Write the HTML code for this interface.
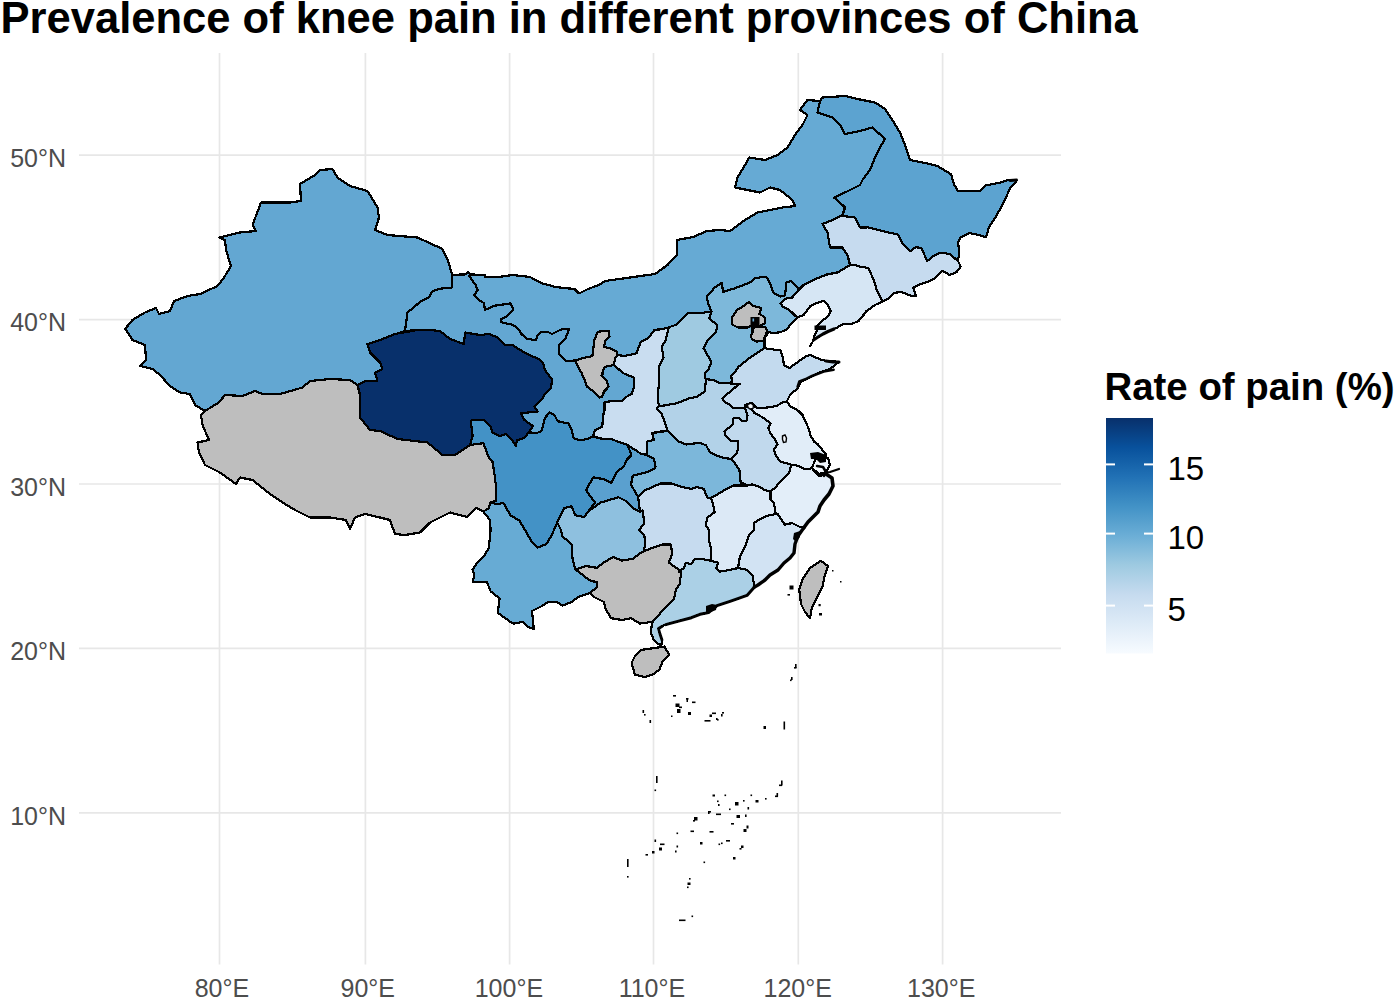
<!DOCTYPE html>
<html><head><meta charset="utf-8"><style>
html,body{margin:0;padding:0;background:#fff;}
svg{display:block;}
text{font-family:"Liberation Sans",sans-serif;}
</style></head><body>
<svg width="1400" height="1000" viewBox="0 0 1400 1000">
<defs><linearGradient id="cb" x1="0" y1="0" x2="0" y2="1">
<stop offset="0.0000" stop-color="#08306b"/>
<stop offset="0.1250" stop-color="#08519c"/>
<stop offset="0.2500" stop-color="#2171b5"/>
<stop offset="0.3750" stop-color="#4292c6"/>
<stop offset="0.5000" stop-color="#6baed6"/>
<stop offset="0.6250" stop-color="#9ecae1"/>
<stop offset="0.7500" stop-color="#c6dbef"/>
<stop offset="0.8750" stop-color="#deebf7"/>
<stop offset="1.0000" stop-color="#f7fbff"/>
</linearGradient></defs>
<rect width="1400" height="1000" fill="#fff"/>
<g stroke="#e7e7e7" stroke-width="1.7" fill="none">
<line x1="219.5" y1="53" x2="219.5" y2="964.5"/>
<line x1="365.4" y1="53" x2="365.4" y2="964.5"/>
<line x1="509.6" y1="53" x2="509.6" y2="964.5"/>
<line x1="653.5" y1="53" x2="653.5" y2="964.5"/>
<line x1="798.3" y1="53" x2="798.3" y2="964.5"/>
<line x1="942.6" y1="53" x2="942.6" y2="964.5"/>
<line x1="79" y1="155.2" x2="1061" y2="155.2"/>
<line x1="79" y1="319.6" x2="1061" y2="319.6"/>
<line x1="79" y1="484.0" x2="1061" y2="484.0"/>
<line x1="79" y1="648.4" x2="1061" y2="648.4"/>
<line x1="79" y1="812.8" x2="1061" y2="812.8"/>
</g>
<g stroke="#000" stroke-width="2.2" stroke-linejoin="round" shape-rendering="crispEdges">
<polygon points="125,329 132.5,320 145,312.5 156,308 159,314 170,311 174,301 187.5,296 200,294 217.5,286 224,277.5 231,266 226,250 225,240 219,237.5 240,232.5 256,231 252.5,225 261,202.5 275,202.5 290,202.5 301,201 300,184 315,175 320,170 332.5,169 337.5,177.5 350,186 367.5,191 377.5,207.5 379,217.5 375,230 387.5,235 417.5,237.5 442.5,249 447.6,260 452.4,275 451.8,287.6 438.6,288.8 432,291.8 429,297.2 420,302 407.5,312.5 405,331 387.5,337.5 367.5,344 370,352.5 380,362.5 382.5,369 375,372.5 377.5,381 365,381 357.5,385 350,380 330,379 310,381 302.5,387.5 280,394 262.5,394 255,391 242.5,396 225,395 218.75,402.5 205,411 195,405 190,394 180,392.5 170,386 160,375 152.5,369 140,366 146,360 145,345 132.5,340 126,330" fill="#000" stroke="#000"/>
<polygon points="205,411 218.75,402.5 225,395 242.5,396 255,391 262.5,394 280,394 302.5,387.5 310,381 330,379 350,380 357.5,385 360,395 360,417.5 370,430 380,431 397.5,439 427.5,442.5 442.5,455 455,455 470,445 483.4,443.2 488.8,457.6 492.4,461.2 494.2,472 496,486.4 496,500.8 490.6,502.6 488.8,508 483.4,511.6 476.2,508 467.2,517 460,515.2 450,512.5 430,522.5 420,532.5 405,535 395,534 390,520 380,517.5 365,514 355,517.5 350,529 346,520 330,517.5 310,517.5 295,510 282.5,502.5 270,494 252.5,480 240,477.5 236,484 220,472.5 205,465 199,452.5 197.5,442.5 209,440 202.5,425 201,415" fill="#000" stroke="#000"/>
<polygon points="367.5,344 380,340 395,334 417.5,330 430,330 440,331 450,339 464,344 465,332.5 480,335 489,334 498,337.6 505.2,344.8 512.4,344.8 520.5,350.2 530.4,355.6 537.6,358.3 543,362.8 544.8,370 552,379.6 551.2,387.6 545.6,393.2 541.6,399.6 534.4,406.8 537.6,411.6 520.8,413.2 524,419.6 532.8,426 528.8,432.4 524,438 516.8,440.4 516,446 511.2,438.8 506.4,434 499.6,436 492.4,432.4 490.6,427 483.4,419.8 472.6,419.8 470.8,421.6 472.6,436 470,445 455,455 442.5,455 427.5,442.5 397.5,439 380,431 370,430 360,417.5 360,395 357.5,385 365,381 377.5,381 375,372.5 382.5,369 380,362.5 370,352.5" fill="#000" stroke="#000"/>
<polygon points="452.4,275 456,274.7 465.6,274.4 468,272 470.4,274.4 469.2,275.6 471.6,279.8 475.2,284 477.6,290 474,295.4 480,300.8 484.2,303.2 484.8,309.8 489.6,308 495,305.6 500,305 504.3,304.3 510.6,303.4 513.3,309.7 507,316 500.7,319.6 501.6,322.3 513.3,325 518.7,329.5 521.4,334 526.8,338.5 535.8,340.3 537.6,334.9 541.2,332.2 548.4,332.2 552,334 561,329.5 569.1,328.6 567.3,334 565.5,338.5 559.2,344.8 559.2,353.8 562.8,357.4 566.4,361 575.3,361 581.6,373.1 585.2,381.2 587,386.6 594.2,392 599.6,397.4 601.4,396.5 605,391.1 608.6,386.6 606.8,381.2 602.3,375.8 603.2,370.4 605,366.8 614,365 623,373.1 633.8,377.6 633.8,387.5 632,393.8 625.5,397.3 622.5,401 611.3,401 604.5,402.5 604.5,410 603,416 602.3,426.5 600,428 595,430 593.2,436 588,438.8 580,440.4 573.6,438 572,430.8 568.8,423.6 557.6,421.2 554.4,414.8 549.6,412.4 544.8,418 541.6,430.8 537,433 528.8,432.4 532.8,426 524,419.6 520.8,413.2 537.6,411.6 534.4,406.8 541.6,399.6 545.6,393.2 551.2,387.6 552,379.6 544.8,370 543,362.8 537.6,358.3 530.4,355.6 520.5,350.2 512.4,344.8 505.2,344.8 498,337.6 489,334 480,335 465,332.5 464,344 450,339 440,331 430,330 417.5,330 405,331 407.5,312.5 420,302 429,297.2 432,291.8 438.6,288.8 451.8,287.6" fill="#000" stroke="#000"/>
<polygon points="469.2,275.6 470.4,274.4 484.8,275 484.8,276.8 500,276.8 512.5,275 530,277 535.8,280 543,283.6 556.5,287.2 574.5,289 579,293.5 588,289 600,284.5 605,281 630,277.5 655,274 667.5,265 677,255 677,240 693,237 707,231 720,230 730,231 745,220 757.5,212.5 782.5,207.5 795,206 792.5,200 780,190 770,187.5 760,192.5 735,187.5 737.5,177.5 745,165 749,157.5 765,160 777.5,155 787.5,147.5 795,135 802.5,125 807.5,115 800,110 807.5,100 820,101 817.5,112.5 832.5,117.5 840,125 845,134 860,131 872.5,127.5 885,139 880,147.5 875,157.5 870,170 862.5,180 860,185 845,192.5 834,197.5 842.5,205 845,207.5 842.5,215 832.5,220 822.5,224 827.5,232.5 830,247.5 842.5,247.5 847.5,255 850,265 838,272.3 826.5,274.6 815,279.2 803.5,285 798.9,289.6 795.5,285 790.9,280.9 786.3,282.7 785.1,295.3 780.5,296.5 773.6,293 770.2,283.8 766.7,277.5 762.1,276.9 754.1,278.6 751.8,281.5 743.7,285 734.5,288.4 723,291.9 721.9,282.7 715,287.3 706.9,296.5 708,303.4 711.5,311.4 700.4,313.2 687.8,313.2 682.4,318.6 677,324.5 668.9,327.2 663.5,329 654.5,329.9 648.2,338 641,341.6 639.2,346.1 636.5,353.3 624.8,356 617.6,355.1 616.7,351.5 611.3,348.8 604.1,347 605,341.6 609.5,336.2 608.6,330.8 597.8,331.7 594.2,340.7 593.3,348.8 592.4,356 584.3,357.8 575.3,360.5 566.4,361 562.8,357.4 559.2,353.8 559.2,344.8 565.5,338.5 567.3,334 569.1,328.6 561,329.5 552,334 548.4,332.2 541.2,332.2 537.6,334.9 535.8,340.3 526.8,338.5 521.4,334 518.7,329.5 513.3,325 501.6,322.3 500.7,319.6 507,316 513.3,309.7 510.6,303.4 504.3,304.3 500,305 495,305.6 489.6,308 484.8,309.8 484.2,303.2 480,300.8 474,295.4 477.6,290 475.2,284 471.6,279.8 469.2,275.6" fill="#000" stroke="#000"/>
<polygon points="820,101 822.5,97.5 845,96 857.5,99 875,102.5 885,109 892.5,120 900,132.5 905,145 910,160 930,164 937.5,166 951,174.2 953.8,184 958,191 980.4,191 986,185.4 1000,182.6 1008.5,179.8 1016.9,180.5 1010,188.2 1007,195.2 1000,209.2 994.5,219 988.9,227.4 986,237.2 976.2,234.4 969.2,233 960.8,237.2 958,242.8 959.4,251.2 958,261 949.6,254 941.2,252.6 934.2,255.4 927.2,261 921.6,248.4 916,247 910.4,251.2 902,242.8 897.8,234.4 890.8,233 879.6,230.2 868.4,227.4 860,227.5 855,217.5 842.5,216 845,207.5 842.5,205 834,197.5 845,192.5 860,185 862.5,180 870,170 875,157.5 880,147.5 885,139 872.5,127.5 860,131 845,134 840,125 832.5,117.5 817.5,112.5" fill="#000" stroke="#000"/>
<polygon points="842.5,216 855,217.5 860,227.5 868.4,227.4 879.6,230.2 890.8,233 897.8,234.4 902,242.8 910.4,251.2 916,247 921.6,248.4 927.2,261 934.2,255.4 941.2,252.6 949.6,254 958,261 960.8,266.6 956.6,272.2 949.6,275 942.6,270.8 935.6,277.8 927.2,282 918.8,284.8 913.2,287.6 916,296 911.8,296 900.6,291.8 893.6,293.2 888,298.9 882.4,301.6 876.8,290.4 874,280.6 868.4,268 860,266.6 855,265 850,265 847.5,255 842.5,247.5 830,247.5 827.5,232.5 822.5,224 832.5,220 842.5,215" fill="#000" stroke="#000"/>
<polygon points="798.9,289.6 803.5,285 815,279.2 826.5,274.6 838,272.3 850,265 855,265 860,266.6 868.4,268 874,280.6 876.8,290.4 882.4,301.6 875,305 866,311.4 865,313.2 858.3,321.4 850,324.2 842.9,324.2 836.3,328 828,331.3 822.5,334.6 815.9,338.5 813,341 810.4,346.2 813.2,340.7 814.3,335.7 817,330.8 815.9,326.9 819.2,323.6 823.6,319.8 828,315.9 830.8,311.5 828,304.9 823.6,301 815.9,303.3 810.4,306 803.3,315.4 797.8,317.2 795.5,316 789.7,310.3 782.8,306.8 780.5,303.4 785.1,298.8 792,297.6" fill="#000" stroke="#000"/>
<polygon points="711.5,311.4 708,303.4 706.9,296.5 715,287.3 721.9,282.7 723,291.9 734.5,288.4 743.7,285 751.8,281.5 754.1,278.6 762.1,276.9 766.7,277.5 770.2,283.8 773.6,293 780.5,296.5 785.1,295.3 786.3,282.7 790.9,280.9 795.5,285 798.9,289.6 792,297.6 785.1,298.8 780.5,303.4 782.8,306.8 789.7,310.3 795.5,316 797.8,317.2 790.9,324.1 786.3,329.8 780.5,332.1 773.6,333.3 769,332.1 764.4,337.9 764.4,348.2 751.8,356.3 738.6,366.7 734.6,372.4 731.1,376.4 732.3,381 730,383.3 720.3,383.3 712.9,379.9 706.6,379.3 705.4,378.7 704.9,373.6 708.1,370.1 711.5,362 706.9,354 703.5,348.2 706.9,341.3 716.1,332.1 717.3,325.2 709.2,318.3" fill="#000" stroke="#000"/>
<polygon points="732,317.5 737,310 743,306.5 749,302 753.5,306 761.5,308 759.5,314 764.5,317 765,323 760,326 751,326 747.5,327.5 738,327.5 732,324.5" fill="#000" stroke="#000"/>
<polygon points="752.5,327.5 765.5,327 767,331 764.5,338 764,341 756,341.5 752,339 750.5,336 752.5,333" fill="#000" stroke="#000"/>
<polygon points="668.9,327.2 677,324.5 682.4,318.6 687.8,313.2 700.4,313.2 711.5,311.4 709.2,318.3 717.3,325.2 716.1,332.1 706.9,341.3 703.5,348.2 706.9,354 711.5,362 708.1,370.1 704.9,373.6 705.4,378.7 706.6,379.3 704.9,386.7 704.9,391.3 701.4,393.6 696.9,397 690,398.1 677,403.2 659,406.4 658.1,401 657.8,395 659,383 659,366.8 663.5,357.8 661.7,346.1 665.3,341.6" fill="#000" stroke="#000"/>
<polygon points="617.6,355.1 624.8,356 636.5,353.3 639.2,346.1 641,341.6 648.2,338 654.5,329.9 663.5,329 668.9,327.2 665.3,341.6 661.7,346.1 663.5,357.8 659,366.8 659,383 657.8,395 658.1,401 659,406.4 657,408.5 661.5,413.8 664.5,421.3 667.5,430.3 652,433 654,440 647.3,441.5 646.5,455 640.5,453.5 633.8,449 628.5,446 627,444.5 619.5,442.3 612,439.3 600,438.5 593.2,436 595,430 600,428 602.3,426.5 603,416 604.5,410 604.5,402.5 611.3,401 622.5,401 625.5,397.3 632,393.8 633.8,387.5 633.8,377.6 623,373.1 614,365 614.9,358.7" fill="#000" stroke="#000"/>
<polygon points="597.8,331.7 608.6,330.8 609.5,336.2 605,341.6 604.1,347 611.3,348.8 616.7,351.5 617.6,355.1 614.9,358.7 614,365 605,366.8 603.2,370.4 601.4,375.8 606.8,381.2 608.6,386.6 604.1,391.1 602.3,396.5 599.6,397.4 594.2,392 587,386.6 585.2,381.2 581.6,373.1 576.2,363.2 575.3,360.5 584.3,357.8 592.4,356 593.3,348.8 594.2,340.7" fill="#000" stroke="#000"/>
<polygon points="659,406.4 677,403.2 690,398.1 696.9,397 701.4,393.6 704.9,391.3 704.9,386.7 706.6,379.3 712.9,379.9 720.3,383.3 730,383.3 732.3,383.9 739.7,383.9 732.3,389.6 726.6,394.7 722.6,398.7 724.3,401.6 730,405 733.4,407.9 744.9,407.9 747.5,415.3 746.4,421.1 741.8,421.1 738.3,417.6 733.7,417.6 732.6,424.5 724.5,431.4 725.7,436 730.3,440.6 738.3,440.6 738.3,448.7 736,454.4 731.4,459 723.4,457.9 716.5,455.6 709.6,452.1 706.1,445.2 699.2,442.9 686.3,444.5 678.8,441.5 672,434.8 667.5,430.3 664.5,421.3 661.5,413.8 657,408.5" fill="#000" stroke="#000"/>
<polygon points="738.6,366.7 751.8,356.3 764.4,348.2 780.5,350.5 782.8,357.4 784,365.5 789.7,367.8 797.8,362 805.8,356.3 810.4,355.1 820.8,359.7 826.5,360.9 839,361.8 830,369 819.2,372.6 808.4,378 801.2,381.6 797.6,388.8 790.4,394.2 786.8,401.4 782.1,402.7 776.3,406.1 768.3,407.3 761.3,408.4 755.6,407.3 752.1,402.7 745.2,405 744.9,407.9 733.4,407.9 730,405 724.3,401.6 722.6,398.7 726.6,394.7 732.3,389.6 739.7,383.9 732.3,383.9 732.3,381 731.1,376.4 734.6,372.4" fill="#000" stroke="#000"/>
<polygon points="745.2,405 752.1,402.7 755.6,407.3 761.3,408.4 768.3,407.3 776.3,406.1 782.1,402.7 786.8,401.4 790.1,406.1 798.2,410.7 802.8,415.3 805.1,421.1 808.5,428 810.8,436 814.3,441.8 817.7,444.1 822.3,449.8 825.8,454.4 824.6,461.3 818.9,466 812,468.3 805.1,469.4 798.2,466 793.6,464.8 791.3,464.8 779.8,461.3 775.2,454.4 774,449.8 777.5,444.1 775.2,439.5 770.6,433.7 768.3,428 770.6,423.4 764.8,418.8 759,415.3 754.4,413 752.1,409.6 748.7,406.1" fill="#000" stroke="#000"/>
<polygon points="744.9,407.9 748.7,406.1 752.1,409.6 754.4,413 759,415.3 764.8,418.8 770.6,423.4 768.3,428 770.6,433.7 775.2,439.5 777.5,444.1 774,449.8 775.2,454.4 779.8,461.3 791.3,464.8 789,472.9 784.4,477.5 779.8,482.1 775.2,487.8 770.6,491.3 764.8,490.1 759,486.7 752.1,484.4 747.5,485.5 740.6,482.1 739.5,470.6 736,464.8 731.4,459 736,454.4 738.3,448.7 738.3,440.6 730.3,440.6 725.7,436 724.5,431.4 732.6,424.5 733.7,417.6 738.3,417.6 741.8,421.1 746.4,421.1 747.5,415.3" fill="#000" stroke="#000"/>
<polygon points="812,468 815,460 822,456 828,458 830,465 826,472 819,474" fill="#000" stroke="#000"/>
<polygon points="770.6,491.3 775.2,487.8 779.8,482.1 784.4,477.5 789,472.9 791.3,464.8 793.6,464.8 798.2,466 805.1,469.4 812,468.3 819,476.2 826,474 832,478 833,486 829,494 824,500 820,506 818,512 813,517 808,522 804,527.5 799.2,526.6 792,523 784.8,524.8 781.2,519.4 777.6,514 775.8,514 774,503.2 770.4,499.6" fill="#000" stroke="#000"/>
<polygon points="711,497.8 713,497 724.5,490.1 733.7,485.5 740.6,485.5 747.5,485.5 752.1,484.4 759,486.7 764.8,490.1 770.6,491.3 770.4,499.6 774,503.2 775.8,514 766.8,515.8 759.6,519.4 754.2,523 754.2,530.2 748.8,535.6 745.2,546.4 739.8,557.2 738,568 730.8,569.8 720,571.6 716.4,568 718.2,562.6 711,560.8 711,548.2 709.2,541 709.2,530.2 705.6,524.8 707.4,517.6 714.6,512.2 712.8,503.2" fill="#000" stroke="#000"/>
<polygon points="775.8,514 777.6,514 781.2,519.4 784.8,524.8 792,523 799.2,526.6 804,527.5 798,536 795,544 794,553 790,558 784,563 778,570 770,575 765,580 758,585 754.5,587 752.4,575.2 747,569.8 738,568 739.8,557.2 745.2,546.4 748.8,535.6 754.2,530.2 754.2,523 759.6,519.4 766.8,515.8" fill="#000" stroke="#000"/>
<polygon points="652,433 667.5,431 672,434.8 678.8,441.5 686.3,444.5 699.2,442.9 706.1,445.2 709.6,452.1 716.5,455.6 723.4,457.9 731.4,459 736,464.8 739.5,470.6 740.6,482.1 740.6,485.5 733.7,485.5 724.5,490.1 713,497 711,497.8 707.4,497.8 703.8,488.8 696.6,487 691.2,488.8 682.2,487 671.4,483.4 660.6,483.4 644.4,490.6 638.2,497.2 631,484.6 632.8,475.6 647.2,472 654.4,468.4 655.5,466.3 654,458.8 646.5,455 647.3,441.5 654,440" fill="#000" stroke="#000"/>
<polygon points="644.4,490.6 660.6,483.4 671.4,483.4 682.2,487 691.2,488.8 696.6,487 703.8,488.8 707.4,497.8 711,497.8 712.8,503.2 714.6,512.2 707.4,517.6 705.6,524.8 709.2,530.2 709.2,541 711,548.2 711,560.8 702,559 694.8,559 691.2,564.4 685.8,562.6 684,568 678.6,571.6 681.4,571.4 676,567.8 668.8,562.4 672.4,553.4 670.6,544.4 662.4,544.6 651.6,548.2 643.6,551.2 645.4,544 644.4,535.6 639,530.2 644.4,523 642.6,510.4 640,511.6 638.2,497.2" fill="#000" stroke="#000"/>
<polygon points="627,444.5 628.5,446 633.8,449 640.5,453.5 646.5,455 654,458.8 655.5,466.3 654.4,468.4 647.2,472 632.8,475.6 631,484.6 638.2,497.2 640,511.6 632.8,508 625.6,500.8 618.4,497.2 600.4,502.6 593.2,508 589.6,509.8 595,502.6 589.6,495.4 586,490 593.2,477.4 604,479.2 611.2,482.8 616.6,472 624,466.3 626.3,460.3 631.5,455 628.5,447.5" fill="#000" stroke="#000"/>
<polygon points="472.6,419.8 483.4,419.8 490.6,427 492.4,432.4 499.6,436 506.4,434 511.2,438.8 516,446 516.8,440.4 524,438 528.8,432.4 537,433 541.6,430.8 544.8,418 549.6,412.4 554.4,414.8 557.6,421.2 568.8,423.6 572,430.8 573.6,438 580,440.4 588,438.8 593.2,436.4 600,438.5 612,439.3 619.5,442.3 627,444.5 628.5,447.5 631.5,455 626.3,460.3 624,466.3 616.6,472 611.2,482.8 604,479.2 593.2,477.4 586,490 589.6,495.4 595,502.6 589.6,509.8 584.2,517 575.2,515.2 571.6,506.2 564.4,508 557.2,522.4 551.8,535 546.4,544 537.4,547.6 532,542.2 524.8,529.6 519.4,520.6 510.4,515.2 503.2,502.6 497.8,504.4 490.6,502.6 496,500.8 496,486.4 494.2,472 492.4,461.2 488.8,457.6 483.4,443.2 470,445 472.6,436 470.8,421.6" fill="#000" stroke="#000"/>
<polygon points="560.8,529.6 557.2,522.4 564.4,508 571.6,506.2 575.2,515.2 584.2,517 589.6,509.8 593.2,508 600.4,502.6 618.4,497.2 625.6,500.8 632.8,508 640,511.6 642.6,510.4 644.4,523 639,530.2 644.4,535.6 645.4,544 643.6,551.2 640,553.4 632.8,558.8 622,560.6 613,557 604,562.4 596.8,567.8 586,566 575.2,569.6 573.4,562.4 571.6,553.4 571.6,544.4 568,540.8 562.6,537.2" fill="#000" stroke="#000"/>
<polygon points="490.6,502.6 497.8,504.4 503.2,502.6 510.4,515.2 519.4,520.6 524.8,529.6 532,542.2 537.4,547.6 546.4,544 551.8,535 557.2,522.4 560.8,529.6 562.6,537.2 568,540.8 571.6,544.4 571.6,553.4 573.4,562.4 575.2,569.6 580.6,573.2 589.6,580.4 596.8,582.2 596.8,587.6 589.6,593 578.8,596.6 571.6,602 562.6,605.6 557.2,602 548.2,602 542.8,605.6 532,611 533.8,629 528.4,627.2 523,621.8 514,623.6 510.4,621.8 497.8,612.8 499.6,598.4 490.6,591.2 487,582.2 472.6,582.2 474.4,575 472.6,569.6 476.2,564.2 483.4,557 488.8,548 490.6,530 490,520 483.4,511.6 488.8,508" fill="#000" stroke="#000"/>
<polygon points="575.2,569.6 586,566 596.8,567.8 604,562.4 613,557 622,560.6 632.8,558.8 640,553.4 643.6,551.2 651.6,548.2 662.4,544.6 670.6,544.4 672.4,553.4 668.8,562.4 676,567.8 681.4,571.4 679.6,584 676,589.4 674.2,598.4 667,605.6 661.6,611 658,616.4 652.6,621.8 640,623.6 631,618.2 622,620 611.2,618.2 605.8,609.2 604,602 593.2,596.6 589.6,593 596.8,587.6 596.8,582.2 589.6,580.4 580.6,573.2" fill="#000" stroke="#000"/>
<polygon points="678.6,571.6 684,568 685.8,562.6 691.2,564.4 694.8,559 702,559 711,560.8 718.2,562.6 716.4,568 720,571.6 730.8,569.8 738,568 747,569.8 752.4,575.2 754.5,587 747,595.4 730,601.4 717,605.7 708.5,612.6 700,614.3 691.4,617.7 678.6,621.1 665.7,624.6 662.3,626.3 658.5,628.5 660,634 662,640 661.4,645.5 658,644 653.7,640 651.1,633.1 651.5,627 652.6,621.8 658,616.4 661.6,611 667,605.6 674.2,598.4 676,589.4 679.6,584 681.4,571.4" fill="#000" stroke="#000"/>
<polygon points="634.8,656.4 641.4,649.9 652.9,648.2 664.4,646.6 669.3,654.8 662.7,661.4 659.4,669.6 652.9,674.5 644.6,677 634.8,674.5 633.1,667.9 631.5,663" fill="#000" stroke="#000"/>
<polygon points="810,568 820.8,560.8 828,566.2 824.4,577 822.6,586 817.2,596.8 811.8,607.6 810,618.4 804.6,611.2 801,604 799.2,589.6 802.8,578.8" fill="#000" stroke="#000"/>
<polygon points="125,329 132.5,320 145,312.5 156,308 159,314 170,311 174,301 187.5,296 200,294 217.5,286 224,277.5 231,266 226,250 225,240 219,237.5 240,232.5 256,231 252.5,225 261,202.5 275,202.5 290,202.5 301,201 300,184 315,175 320,170 332.5,169 337.5,177.5 350,186 367.5,191 377.5,207.5 379,217.5 375,230 387.5,235 417.5,237.5 442.5,249 447.6,260 452.4,275 451.8,287.6 438.6,288.8 432,291.8 429,297.2 420,302 407.5,312.5 405,331 387.5,337.5 367.5,344 370,352.5 380,362.5 382.5,369 375,372.5 377.5,381 365,381 357.5,385 350,380 330,379 310,381 302.5,387.5 280,394 262.5,394 255,391 242.5,396 225,395 218.75,402.5 205,411 195,405 190,394 180,392.5 170,386 160,375 152.5,369 140,366 146,360 145,345 132.5,340 126,330" fill="#63a7d2"/>
<polygon points="205,411 218.75,402.5 225,395 242.5,396 255,391 262.5,394 280,394 302.5,387.5 310,381 330,379 350,380 357.5,385 360,395 360,417.5 370,430 380,431 397.5,439 427.5,442.5 442.5,455 455,455 470,445 483.4,443.2 488.8,457.6 492.4,461.2 494.2,472 496,486.4 496,500.8 490.6,502.6 488.8,508 483.4,511.6 476.2,508 467.2,517 460,515.2 450,512.5 430,522.5 420,532.5 405,535 395,534 390,520 380,517.5 365,514 355,517.5 350,529 346,520 330,517.5 310,517.5 295,510 282.5,502.5 270,494 252.5,480 240,477.5 236,484 220,472.5 205,465 199,452.5 197.5,442.5 209,440 202.5,425 201,415" fill="#bebebe"/>
<polygon points="367.5,344 380,340 395,334 417.5,330 430,330 440,331 450,339 464,344 465,332.5 480,335 489,334 498,337.6 505.2,344.8 512.4,344.8 520.5,350.2 530.4,355.6 537.6,358.3 543,362.8 544.8,370 552,379.6 551.2,387.6 545.6,393.2 541.6,399.6 534.4,406.8 537.6,411.6 520.8,413.2 524,419.6 532.8,426 528.8,432.4 524,438 516.8,440.4 516,446 511.2,438.8 506.4,434 499.6,436 492.4,432.4 490.6,427 483.4,419.8 472.6,419.8 470.8,421.6 472.6,436 470,445 455,455 442.5,455 427.5,442.5 397.5,439 380,431 370,430 360,417.5 360,395 357.5,385 365,381 377.5,381 375,372.5 382.5,369 380,362.5 370,352.5" fill="#08306b"/>
<polygon points="452.4,275 456,274.7 465.6,274.4 468,272 470.4,274.4 469.2,275.6 471.6,279.8 475.2,284 477.6,290 474,295.4 480,300.8 484.2,303.2 484.8,309.8 489.6,308 495,305.6 500,305 504.3,304.3 510.6,303.4 513.3,309.7 507,316 500.7,319.6 501.6,322.3 513.3,325 518.7,329.5 521.4,334 526.8,338.5 535.8,340.3 537.6,334.9 541.2,332.2 548.4,332.2 552,334 561,329.5 569.1,328.6 567.3,334 565.5,338.5 559.2,344.8 559.2,353.8 562.8,357.4 566.4,361 575.3,361 581.6,373.1 585.2,381.2 587,386.6 594.2,392 599.6,397.4 601.4,396.5 605,391.1 608.6,386.6 606.8,381.2 602.3,375.8 603.2,370.4 605,366.8 614,365 623,373.1 633.8,377.6 633.8,387.5 632,393.8 625.5,397.3 622.5,401 611.3,401 604.5,402.5 604.5,410 603,416 602.3,426.5 600,428 595,430 593.2,436 588,438.8 580,440.4 573.6,438 572,430.8 568.8,423.6 557.6,421.2 554.4,414.8 549.6,412.4 544.8,418 541.6,430.8 537,433 528.8,432.4 532.8,426 524,419.6 520.8,413.2 537.6,411.6 534.4,406.8 541.6,399.6 545.6,393.2 551.2,387.6 552,379.6 544.8,370 543,362.8 537.6,358.3 530.4,355.6 520.5,350.2 512.4,344.8 505.2,344.8 498,337.6 489,334 480,335 465,332.5 464,344 450,339 440,331 430,330 417.5,330 405,331 407.5,312.5 420,302 429,297.2 432,291.8 438.6,288.8 451.8,287.6" fill="#63a7d2"/>
<polygon points="469.2,275.6 470.4,274.4 484.8,275 484.8,276.8 500,276.8 512.5,275 530,277 535.8,280 543,283.6 556.5,287.2 574.5,289 579,293.5 588,289 600,284.5 605,281 630,277.5 655,274 667.5,265 677,255 677,240 693,237 707,231 720,230 730,231 745,220 757.5,212.5 782.5,207.5 795,206 792.5,200 780,190 770,187.5 760,192.5 735,187.5 737.5,177.5 745,165 749,157.5 765,160 777.5,155 787.5,147.5 795,135 802.5,125 807.5,115 800,110 807.5,100 820,101 817.5,112.5 832.5,117.5 840,125 845,134 860,131 872.5,127.5 885,139 880,147.5 875,157.5 870,170 862.5,180 860,185 845,192.5 834,197.5 842.5,205 845,207.5 842.5,215 832.5,220 822.5,224 827.5,232.5 830,247.5 842.5,247.5 847.5,255 850,265 838,272.3 826.5,274.6 815,279.2 803.5,285 798.9,289.6 795.5,285 790.9,280.9 786.3,282.7 785.1,295.3 780.5,296.5 773.6,293 770.2,283.8 766.7,277.5 762.1,276.9 754.1,278.6 751.8,281.5 743.7,285 734.5,288.4 723,291.9 721.9,282.7 715,287.3 706.9,296.5 708,303.4 711.5,311.4 700.4,313.2 687.8,313.2 682.4,318.6 677,324.5 668.9,327.2 663.5,329 654.5,329.9 648.2,338 641,341.6 639.2,346.1 636.5,353.3 624.8,356 617.6,355.1 616.7,351.5 611.3,348.8 604.1,347 605,341.6 609.5,336.2 608.6,330.8 597.8,331.7 594.2,340.7 593.3,348.8 592.4,356 584.3,357.8 575.3,360.5 566.4,361 562.8,357.4 559.2,353.8 559.2,344.8 565.5,338.5 567.3,334 569.1,328.6 561,329.5 552,334 548.4,332.2 541.2,332.2 537.6,334.9 535.8,340.3 526.8,338.5 521.4,334 518.7,329.5 513.3,325 501.6,322.3 500.7,319.6 507,316 513.3,309.7 510.6,303.4 504.3,304.3 500,305 495,305.6 489.6,308 484.8,309.8 484.2,303.2 480,300.8 474,295.4 477.6,290 475.2,284 471.6,279.8 469.2,275.6" fill="#66aad4"/>
<polygon points="820,101 822.5,97.5 845,96 857.5,99 875,102.5 885,109 892.5,120 900,132.5 905,145 910,160 930,164 937.5,166 951,174.2 953.8,184 958,191 980.4,191 986,185.4 1000,182.6 1008.5,179.8 1016.9,180.5 1010,188.2 1007,195.2 1000,209.2 994.5,219 988.9,227.4 986,237.2 976.2,234.4 969.2,233 960.8,237.2 958,242.8 959.4,251.2 958,261 949.6,254 941.2,252.6 934.2,255.4 927.2,261 921.6,248.4 916,247 910.4,251.2 902,242.8 897.8,234.4 890.8,233 879.6,230.2 868.4,227.4 860,227.5 855,217.5 842.5,216 845,207.5 842.5,205 834,197.5 845,192.5 860,185 862.5,180 870,170 875,157.5 880,147.5 885,139 872.5,127.5 860,131 845,134 840,125 832.5,117.5 817.5,112.5" fill="#5ca3d0"/>
<polygon points="842.5,216 855,217.5 860,227.5 868.4,227.4 879.6,230.2 890.8,233 897.8,234.4 902,242.8 910.4,251.2 916,247 921.6,248.4 927.2,261 934.2,255.4 941.2,252.6 949.6,254 958,261 960.8,266.6 956.6,272.2 949.6,275 942.6,270.8 935.6,277.8 927.2,282 918.8,284.8 913.2,287.6 916,296 911.8,296 900.6,291.8 893.6,293.2 888,298.9 882.4,301.6 876.8,290.4 874,280.6 868.4,268 860,266.6 855,265 850,265 847.5,255 842.5,247.5 830,247.5 827.5,232.5 822.5,224 832.5,220 842.5,215" fill="#c6dbef"/>
<polygon points="798.9,289.6 803.5,285 815,279.2 826.5,274.6 838,272.3 850,265 855,265 860,266.6 868.4,268 874,280.6 876.8,290.4 882.4,301.6 875,305 866,311.4 865,313.2 858.3,321.4 850,324.2 842.9,324.2 836.3,328 828,331.3 822.5,334.6 815.9,338.5 813,341 810.4,346.2 813.2,340.7 814.3,335.7 817,330.8 815.9,326.9 819.2,323.6 823.6,319.8 828,315.9 830.8,311.5 828,304.9 823.6,301 815.9,303.3 810.4,306 803.3,315.4 797.8,317.2 795.5,316 789.7,310.3 782.8,306.8 780.5,303.4 785.1,298.8 792,297.6" fill="#d6e6f4"/>
<polygon points="711.5,311.4 708,303.4 706.9,296.5 715,287.3 721.9,282.7 723,291.9 734.5,288.4 743.7,285 751.8,281.5 754.1,278.6 762.1,276.9 766.7,277.5 770.2,283.8 773.6,293 780.5,296.5 785.1,295.3 786.3,282.7 790.9,280.9 795.5,285 798.9,289.6 792,297.6 785.1,298.8 780.5,303.4 782.8,306.8 789.7,310.3 795.5,316 797.8,317.2 790.9,324.1 786.3,329.8 780.5,332.1 773.6,333.3 769,332.1 764.4,337.9 764.4,348.2 751.8,356.3 738.6,366.7 734.6,372.4 731.1,376.4 732.3,381 730,383.3 720.3,383.3 712.9,379.9 706.6,379.3 705.4,378.7 704.9,373.6 708.1,370.1 711.5,362 706.9,354 703.5,348.2 706.9,341.3 716.1,332.1 717.3,325.2 709.2,318.3" fill="#7db8da"/>
<polygon points="732,317.5 737,310 743,306.5 749,302 753.5,306 761.5,308 759.5,314 764.5,317 765,323 760,326 751,326 747.5,327.5 738,327.5 732,324.5" fill="#bebebe"/>
<polygon points="752.5,327.5 765.5,327 767,331 764.5,338 764,341 756,341.5 752,339 750.5,336 752.5,333" fill="#bebebe"/>
<polygon points="668.9,327.2 677,324.5 682.4,318.6 687.8,313.2 700.4,313.2 711.5,311.4 709.2,318.3 717.3,325.2 716.1,332.1 706.9,341.3 703.5,348.2 706.9,354 711.5,362 708.1,370.1 704.9,373.6 705.4,378.7 706.6,379.3 704.9,386.7 704.9,391.3 701.4,393.6 696.9,397 690,398.1 677,403.2 659,406.4 658.1,401 657.8,395 659,383 659,366.8 663.5,357.8 661.7,346.1 665.3,341.6" fill="#9fcae1"/>
<polygon points="617.6,355.1 624.8,356 636.5,353.3 639.2,346.1 641,341.6 648.2,338 654.5,329.9 663.5,329 668.9,327.2 665.3,341.6 661.7,346.1 663.5,357.8 659,366.8 659,383 657.8,395 658.1,401 659,406.4 657,408.5 661.5,413.8 664.5,421.3 667.5,430.3 652,433 654,440 647.3,441.5 646.5,455 640.5,453.5 633.8,449 628.5,446 627,444.5 619.5,442.3 612,439.3 600,438.5 593.2,436 595,430 600,428 602.3,426.5 603,416 604.5,410 604.5,402.5 611.3,401 622.5,401 625.5,397.3 632,393.8 633.8,387.5 633.8,377.6 623,373.1 614,365 614.9,358.7" fill="#c9ddf0"/>
<polygon points="597.8,331.7 608.6,330.8 609.5,336.2 605,341.6 604.1,347 611.3,348.8 616.7,351.5 617.6,355.1 614.9,358.7 614,365 605,366.8 603.2,370.4 601.4,375.8 606.8,381.2 608.6,386.6 604.1,391.1 602.3,396.5 599.6,397.4 594.2,392 587,386.6 585.2,381.2 581.6,373.1 576.2,363.2 575.3,360.5 584.3,357.8 592.4,356 593.3,348.8 594.2,340.7" fill="#bebebe"/>
<polygon points="659,406.4 677,403.2 690,398.1 696.9,397 701.4,393.6 704.9,391.3 704.9,386.7 706.6,379.3 712.9,379.9 720.3,383.3 730,383.3 732.3,383.9 739.7,383.9 732.3,389.6 726.6,394.7 722.6,398.7 724.3,401.6 730,405 733.4,407.9 744.9,407.9 747.5,415.3 746.4,421.1 741.8,421.1 738.3,417.6 733.7,417.6 732.6,424.5 724.5,431.4 725.7,436 730.3,440.6 738.3,440.6 738.3,448.7 736,454.4 731.4,459 723.4,457.9 716.5,455.6 709.6,452.1 706.1,445.2 699.2,442.9 686.3,444.5 678.8,441.5 672,434.8 667.5,430.3 664.5,421.3 661.5,413.8 657,408.5" fill="#b2d2e8"/>
<polygon points="738.6,366.7 751.8,356.3 764.4,348.2 780.5,350.5 782.8,357.4 784,365.5 789.7,367.8 797.8,362 805.8,356.3 810.4,355.1 820.8,359.7 826.5,360.9 839,361.8 830,369 819.2,372.6 808.4,378 801.2,381.6 797.6,388.8 790.4,394.2 786.8,401.4 782.1,402.7 776.3,406.1 768.3,407.3 761.3,408.4 755.6,407.3 752.1,402.7 745.2,405 744.9,407.9 733.4,407.9 730,405 724.3,401.6 722.6,398.7 726.6,394.7 732.3,389.6 739.7,383.9 732.3,383.9 732.3,381 731.1,376.4 734.6,372.4" fill="#c3daee"/>
<polygon points="745.2,405 752.1,402.7 755.6,407.3 761.3,408.4 768.3,407.3 776.3,406.1 782.1,402.7 786.8,401.4 790.1,406.1 798.2,410.7 802.8,415.3 805.1,421.1 808.5,428 810.8,436 814.3,441.8 817.7,444.1 822.3,449.8 825.8,454.4 824.6,461.3 818.9,466 812,468.3 805.1,469.4 798.2,466 793.6,464.8 791.3,464.8 779.8,461.3 775.2,454.4 774,449.8 777.5,444.1 775.2,439.5 770.6,433.7 768.3,428 770.6,423.4 764.8,418.8 759,415.3 754.4,413 752.1,409.6 748.7,406.1" fill="#e1edf8"/>
<polygon points="744.9,407.9 748.7,406.1 752.1,409.6 754.4,413 759,415.3 764.8,418.8 770.6,423.4 768.3,428 770.6,433.7 775.2,439.5 777.5,444.1 774,449.8 775.2,454.4 779.8,461.3 791.3,464.8 789,472.9 784.4,477.5 779.8,482.1 775.2,487.8 770.6,491.3 764.8,490.1 759,486.7 752.1,484.4 747.5,485.5 740.6,482.1 739.5,470.6 736,464.8 731.4,459 736,454.4 738.3,448.7 738.3,440.6 730.3,440.6 725.7,436 724.5,431.4 732.6,424.5 733.7,417.6 738.3,417.6 741.8,421.1 746.4,421.1 747.5,415.3" fill="#c1d9ed"/>
<polygon points="812,468 815,460 822,456 828,458 830,465 826,472 819,474" fill="#f0f6fc"/>
<polygon points="770.6,491.3 775.2,487.8 779.8,482.1 784.4,477.5 789,472.9 791.3,464.8 793.6,464.8 798.2,466 805.1,469.4 812,468.3 819,476.2 826,474 832,478 833,486 829,494 824,500 820,506 818,512 813,517 808,522 804,527.5 799.2,526.6 792,523 784.8,524.8 781.2,519.4 777.6,514 775.8,514 774,503.2 770.4,499.6" fill="#e3eef9"/>
<polygon points="711,497.8 713,497 724.5,490.1 733.7,485.5 740.6,485.5 747.5,485.5 752.1,484.4 759,486.7 764.8,490.1 770.6,491.3 770.4,499.6 774,503.2 775.8,514 766.8,515.8 759.6,519.4 754.2,523 754.2,530.2 748.8,535.6 745.2,546.4 739.8,557.2 738,568 730.8,569.8 720,571.6 716.4,568 718.2,562.6 711,560.8 711,548.2 709.2,541 709.2,530.2 705.6,524.8 707.4,517.6 714.6,512.2 712.8,503.2" fill="#dce9f6"/>
<polygon points="775.8,514 777.6,514 781.2,519.4 784.8,524.8 792,523 799.2,526.6 804,527.5 798,536 795,544 794,553 790,558 784,563 778,570 770,575 765,580 758,585 754.5,587 752.4,575.2 747,569.8 738,568 739.8,557.2 745.2,546.4 748.8,535.6 754.2,530.2 754.2,523 759.6,519.4 766.8,515.8" fill="#d2e3f3"/>
<polygon points="652,433 667.5,431 672,434.8 678.8,441.5 686.3,444.5 699.2,442.9 706.1,445.2 709.6,452.1 716.5,455.6 723.4,457.9 731.4,459 736,464.8 739.5,470.6 740.6,482.1 740.6,485.5 733.7,485.5 724.5,490.1 713,497 711,497.8 707.4,497.8 703.8,488.8 696.6,487 691.2,488.8 682.2,487 671.4,483.4 660.6,483.4 644.4,490.6 638.2,497.2 631,484.6 632.8,475.6 647.2,472 654.4,468.4 655.5,466.3 654,458.8 646.5,455 647.3,441.5 654,440" fill="#7cb7da"/>
<polygon points="644.4,490.6 660.6,483.4 671.4,483.4 682.2,487 691.2,488.8 696.6,487 703.8,488.8 707.4,497.8 711,497.8 712.8,503.2 714.6,512.2 707.4,517.6 705.6,524.8 709.2,530.2 709.2,541 711,548.2 711,560.8 702,559 694.8,559 691.2,564.4 685.8,562.6 684,568 678.6,571.6 681.4,571.4 676,567.8 668.8,562.4 672.4,553.4 670.6,544.4 662.4,544.6 651.6,548.2 643.6,551.2 645.4,544 644.4,535.6 639,530.2 644.4,523 642.6,510.4 640,511.6 638.2,497.2" fill="#c6dbef"/>
<polygon points="627,444.5 628.5,446 633.8,449 640.5,453.5 646.5,455 654,458.8 655.5,466.3 654.4,468.4 647.2,472 632.8,475.6 631,484.6 638.2,497.2 640,511.6 632.8,508 625.6,500.8 618.4,497.2 600.4,502.6 593.2,508 589.6,509.8 595,502.6 589.6,495.4 586,490 593.2,477.4 604,479.2 611.2,482.8 616.6,472 624,466.3 626.3,460.3 631.5,455 628.5,447.5" fill="#5aa0cf"/>
<polygon points="472.6,419.8 483.4,419.8 490.6,427 492.4,432.4 499.6,436 506.4,434 511.2,438.8 516,446 516.8,440.4 524,438 528.8,432.4 537,433 541.6,430.8 544.8,418 549.6,412.4 554.4,414.8 557.6,421.2 568.8,423.6 572,430.8 573.6,438 580,440.4 588,438.8 593.2,436.4 600,438.5 612,439.3 619.5,442.3 627,444.5 628.5,447.5 631.5,455 626.3,460.3 624,466.3 616.6,472 611.2,482.8 604,479.2 593.2,477.4 586,490 589.6,495.4 595,502.6 589.6,509.8 584.2,517 575.2,515.2 571.6,506.2 564.4,508 557.2,522.4 551.8,535 546.4,544 537.4,547.6 532,542.2 524.8,529.6 519.4,520.6 510.4,515.2 503.2,502.6 497.8,504.4 490.6,502.6 496,500.8 496,486.4 494.2,472 492.4,461.2 488.8,457.6 483.4,443.2 470,445 472.6,436 470.8,421.6" fill="#4392c6"/>
<polygon points="560.8,529.6 557.2,522.4 564.4,508 571.6,506.2 575.2,515.2 584.2,517 589.6,509.8 593.2,508 600.4,502.6 618.4,497.2 625.6,500.8 632.8,508 640,511.6 642.6,510.4 644.4,523 639,530.2 644.4,535.6 645.4,544 643.6,551.2 640,553.4 632.8,558.8 622,560.6 613,557 604,562.4 596.8,567.8 586,566 575.2,569.6 573.4,562.4 571.6,553.4 571.6,544.4 568,540.8 562.6,537.2" fill="#8ec0df"/>
<polygon points="490.6,502.6 497.8,504.4 503.2,502.6 510.4,515.2 519.4,520.6 524.8,529.6 532,542.2 537.4,547.6 546.4,544 551.8,535 557.2,522.4 560.8,529.6 562.6,537.2 568,540.8 571.6,544.4 571.6,553.4 573.4,562.4 575.2,569.6 580.6,573.2 589.6,580.4 596.8,582.2 596.8,587.6 589.6,593 578.8,596.6 571.6,602 562.6,605.6 557.2,602 548.2,602 542.8,605.6 532,611 533.8,629 528.4,627.2 523,621.8 514,623.6 510.4,621.8 497.8,612.8 499.6,598.4 490.6,591.2 487,582.2 472.6,582.2 474.4,575 472.6,569.6 476.2,564.2 483.4,557 488.8,548 490.6,530 490,520 483.4,511.6 488.8,508" fill="#67abd4"/>
<polygon points="575.2,569.6 586,566 596.8,567.8 604,562.4 613,557 622,560.6 632.8,558.8 640,553.4 643.6,551.2 651.6,548.2 662.4,544.6 670.6,544.4 672.4,553.4 668.8,562.4 676,567.8 681.4,571.4 679.6,584 676,589.4 674.2,598.4 667,605.6 661.6,611 658,616.4 652.6,621.8 640,623.6 631,618.2 622,620 611.2,618.2 605.8,609.2 604,602 593.2,596.6 589.6,593 596.8,587.6 596.8,582.2 589.6,580.4 580.6,573.2" fill="#bebebe"/>
<polygon points="678.6,571.6 684,568 685.8,562.6 691.2,564.4 694.8,559 702,559 711,560.8 718.2,562.6 716.4,568 720,571.6 730.8,569.8 738,568 747,569.8 752.4,575.2 754.5,587 747,595.4 730,601.4 717,605.7 708.5,612.6 700,614.3 691.4,617.7 678.6,621.1 665.7,624.6 662.3,626.3 658.5,628.5 660,634 662,640 661.4,645.5 658,644 653.7,640 651.1,633.1 651.5,627 652.6,621.8 658,616.4 661.6,611 667,605.6 674.2,598.4 676,589.4 679.6,584 681.4,571.4" fill="#abd0e6"/>
<polygon points="634.8,656.4 641.4,649.9 652.9,648.2 664.4,646.6 669.3,654.8 662.7,661.4 659.4,669.6 652.9,674.5 644.6,677 634.8,674.5 633.1,667.9 631.5,663" fill="#bebebe"/>
<polygon points="810,568 820.8,560.8 828,566.2 824.4,577 822.6,586 817.2,596.8 811.8,607.6 810,618.4 804.6,611.2 801,604 799.2,589.6 802.8,578.8" fill="#bebebe"/>
</g>
<g><polyline points="826,474 832,478 833,486 829,494 824,500 820,506 818,512 813,517 808,522 804,527.5" fill="none" stroke="#000" stroke-width="3.6" stroke-linejoin="round" stroke-linecap="round"/>
<polyline points="804,527.5 798,536 795,544 794,553 790,558 784,563 778,570 770,575 765,580 758,585 754.5,587" fill="none" stroke="#000" stroke-width="3.4" stroke-linejoin="round" stroke-linecap="round"/>
<polyline points="754.5,587 747,595.4 730,601.4 717,605.7 708.5,612.6 700,614.3 691.4,617.7 678.6,621.1 665.7,624.6" fill="none" stroke="#000" stroke-width="3.0" stroke-linejoin="round" stroke-linecap="round"/>
<polyline points="662.3,626.3 658.5,628.5 660,634 662,640" fill="none" stroke="#000" stroke-width="2.8" stroke-linejoin="round" stroke-linecap="round"/>
<polygon points="706,606 712,604 717,605 716,610 711,612 706,613" fill="#000"/>
<polygon points="794,533 800,531 800,537 796,542 793,539" fill="#000"/>
<polygon points="810,453 818,452 826,455 826,462 820,463 816,459 811,459" fill="#000"/>
<polyline points="824,473 830,472 839,469" fill="none" stroke="#000" stroke-width="2.2" stroke-linejoin="round" stroke-linecap="round"/>
<polyline points="817,466 823,467 826,472 824,476" fill="none" stroke="#000" stroke-width="2.5" stroke-linejoin="round" stroke-linecap="round"/>
<polyline points="833.6,369.7 823.7,371.5 812,376 806.6,378.7 799.4,381.4 797.6,386.8" fill="none" stroke="#000" stroke-width="2.6" stroke-linejoin="round" stroke-linecap="round"/>
<polyline points="1010,180.5 1016.5,180" fill="none" stroke="#000" stroke-width="3" stroke-linejoin="round" stroke-linecap="round"/>
<polyline points="826,361 833,362 839,362" fill="none" stroke="#000" stroke-width="3" stroke-linejoin="round" stroke-linecap="round"/>
<polygon points="814.5,325.5 826,325.5 826,330 814.5,330" fill="#000"/>
<polyline points="813.5,340 818,337 823,334 828,331.5 834,329" fill="none" stroke="#000" stroke-width="3.2" stroke-linejoin="round" stroke-linecap="round"/>
<polygon points="747.5,404.5 751,403 753.5,405.5 753,408.5 750,409 748,407.5" fill="#f4f8fc" stroke="#000" stroke-width="1.4"/>
<polygon points="782.5,436 785,435 786.5,438 786,442 783.5,442.5 782.5,439.5" fill="#f4f8fc" stroke="#000" stroke-width="1.4"/>
<polygon points="750.5,317 759.5,317 759.5,327.5 750.5,327.5" fill="#000"/>
<rect x="752.5" y="318.5" width="1.6" height="3" fill="#6ab0dc"/>
<rect x="789.5" y="585.5" width="4" height="4" fill="#000"/>
<rect x="787.5" y="594" width="2.5" height="1.6" fill="#000"/>
<rect x="818.5" y="604" width="2.2" height="2.2" fill="#000"/>
<rect x="819" y="613" width="3" height="2.5" fill="#000"/>
<rect x="832" y="570" width="1.5" height="1.5" fill="#000"/>
<rect x="840" y="581" width="1.5" height="1.5" fill="#000"/>
<rect x="795" y="664" width="1.6" height="4" fill="#000"/>
<rect x="794" y="667" width="2.5" height="1.6" fill="#000"/>
<rect x="791" y="677" width="1.6" height="3" fill="#000"/>
<rect x="790" y="679.5" width="1.6" height="1.6" fill="#000"/>
<rect x="673" y="695" width="3" height="1.6" fill="#000"/>
<rect x="686" y="698" width="2.5" height="1.6" fill="#000"/>
<rect x="686.5" y="699" width="1.5" height="3" fill="#000"/>
<rect x="692" y="701.5" width="3.5" height="1.6" fill="#000"/>
<rect x="675.5" y="703.5" width="4" height="3.5" fill="#000"/>
<rect x="677" y="709" width="3.5" height="4" fill="#000"/>
<rect x="679" y="706.5" width="3" height="1.6" fill="#000"/>
<rect x="688" y="712" width="3" height="3" fill="#000"/>
<rect x="671" y="715.5" width="1.5" height="1.5" fill="#000"/>
<rect x="642.5" y="710" width="1.6" height="3" fill="#000"/>
<rect x="644" y="714" width="1.6" height="1.6" fill="#000"/>
<rect x="649.5" y="720" width="1.6" height="3" fill="#000"/>
<rect x="709.5" y="714.5" width="2.5" height="2.5" fill="#000"/>
<rect x="712" y="712.5" width="4" height="1.6" fill="#000"/>
<rect x="716" y="718" width="1.6" height="2" fill="#000"/>
<rect x="722" y="712" width="2" height="1.6" fill="#000"/>
<rect x="721" y="714" width="1.6" height="2.5" fill="#000"/>
<rect x="704.5" y="720" width="6" height="1.6" fill="#000"/>
<rect x="717" y="719" width="1.6" height="1.6" fill="#000"/>
<rect x="763.5" y="726" width="2.5" height="3" fill="#000"/>
<rect x="783.5" y="721.5" width="1.6" height="8" fill="#000"/>
<rect x="656" y="776" width="1.6" height="7" fill="#000"/>
<rect x="654.5" y="789.5" width="1.6" height="1.6" fill="#000"/>
<rect x="781" y="780.5" width="1.6" height="5" fill="#000"/>
<rect x="779" y="784.5" width="3" height="1.6" fill="#000"/>
<rect x="776.5" y="793" width="1.6" height="3.5" fill="#000"/>
<rect x="775" y="795.5" width="3" height="1.6" fill="#000"/>
<rect x="712.5" y="794.5" width="2.5" height="2" fill="#000"/>
<rect x="724.5" y="794.5" width="1.6" height="1.6" fill="#000"/>
<rect x="750.5" y="794.5" width="1.6" height="1.6" fill="#000"/>
<rect x="717" y="800.5" width="1.6" height="1.6" fill="#000"/>
<rect x="718" y="804" width="1.6" height="2" fill="#000"/>
<rect x="743" y="800" width="1.6" height="1.6" fill="#000"/>
<rect x="755.5" y="800" width="3" height="2.5" fill="#000"/>
<rect x="765" y="798" width="1.6" height="1.6" fill="#000"/>
<rect x="735" y="802" width="3.5" height="3.5" fill="#000"/>
<rect x="747.5" y="807" width="1.6" height="2.5" fill="#000"/>
<rect x="729" y="808.5" width="1.6" height="1.6" fill="#000"/>
<rect x="708" y="811" width="3" height="1.6" fill="#000"/>
<rect x="708" y="812" width="1.6" height="2" fill="#000"/>
<rect x="716" y="813.5" width="5" height="1.6" fill="#000"/>
<rect x="736.5" y="815" width="3.5" height="3" fill="#000"/>
<rect x="745" y="814.5" width="1.6" height="2.5" fill="#000"/>
<rect x="694" y="817" width="3.5" height="3.5" fill="#000"/>
<rect x="693" y="820" width="2" height="1.6" fill="#000"/>
<rect x="731" y="823" width="3" height="1.6" fill="#000"/>
<rect x="746.5" y="825.5" width="2" height="3" fill="#000"/>
<rect x="743.5" y="829" width="3" height="3" fill="#000"/>
<rect x="690.5" y="830.5" width="3.5" height="1.6" fill="#000"/>
<rect x="709.5" y="831" width="4" height="1.6" fill="#000"/>
<rect x="676.5" y="832.5" width="1.6" height="1.6" fill="#000"/>
<rect x="654.5" y="839.5" width="1.6" height="2.5" fill="#000"/>
<rect x="660" y="843.5" width="4.5" height="1.6" fill="#000"/>
<rect x="659" y="847.5" width="3" height="3" fill="#000"/>
<rect x="652" y="851" width="2.5" height="2.5" fill="#000"/>
<rect x="645.5" y="854" width="2.5" height="1.6" fill="#000"/>
<rect x="676.5" y="845.5" width="1.6" height="2" fill="#000"/>
<rect x="675" y="850.5" width="1.6" height="2" fill="#000"/>
<rect x="700" y="842" width="2.5" height="2.5" fill="#000"/>
<rect x="718.5" y="843.5" width="1.6" height="1.6" fill="#000"/>
<rect x="721" y="842.5" width="1.6" height="1.6" fill="#000"/>
<rect x="726" y="840" width="4" height="1.6" fill="#000"/>
<rect x="741" y="845.5" width="2.5" height="2.5" fill="#000"/>
<rect x="739.5" y="848" width="2" height="1.6" fill="#000"/>
<rect x="733" y="857" width="2.5" height="2.5" fill="#000"/>
<rect x="703.5" y="861.5" width="1.6" height="1.6" fill="#000"/>
<rect x="627" y="859" width="1.6" height="8" fill="#000"/>
<rect x="627" y="876" width="1.6" height="1.6" fill="#000"/>
<rect x="689" y="878" width="1.6" height="1.6" fill="#000"/>
<rect x="687.5" y="882.5" width="3" height="2.5" fill="#000"/>
<rect x="687" y="886.5" width="1.6" height="1.6" fill="#000"/>
<rect x="691.5" y="915.5" width="1.6" height="1.6" fill="#000"/>
<rect x="679" y="919.5" width="6.5" height="1.6" fill="#000"/></g>
<text x="0.5" y="33" font-size="43.55" font-weight="bold" fill="#000">Prevalence of knee pain in different provinces of China</text>
<g font-size="25" fill="#4d4d4d">
<text x="66" y="167.0" text-anchor="end">50°N</text>
<text x="66" y="331.4" text-anchor="end">40°N</text>
<text x="66" y="495.8" text-anchor="end">30°N</text>
<text x="66" y="660.2" text-anchor="end">20°N</text>
<text x="66" y="824.6" text-anchor="end">10°N</text>
<text x="221.9" y="997" text-anchor="middle">80°E</text>
<text x="367.8" y="997" text-anchor="middle">90°E</text>
<text x="508.9" y="997" text-anchor="middle">100°E</text>
<text x="651.9" y="997" text-anchor="middle">110°E</text>
<text x="797.7" y="997" text-anchor="middle">120°E</text>
<text x="941.2" y="997" text-anchor="middle">130°E</text>
</g>
<text x="1104.5" y="399.6" font-size="38.4" font-weight="bold" fill="#000">Rate of pain (%)</text>
<rect x="1106" y="418" width="47" height="235.5" fill="url(#cb)"/>
<g stroke="#fff" stroke-width="2">
<line x1="1106" y1="464.4" x2="1115" y2="464.4"/><line x1="1144" y1="464.4" x2="1153" y2="464.4"/>
<line x1="1106" y1="533.6" x2="1115" y2="533.6"/><line x1="1144" y1="533.6" x2="1153" y2="533.6"/>
<line x1="1106" y1="605.6" x2="1115" y2="605.6"/><line x1="1144" y1="605.6" x2="1153" y2="605.6"/>
</g>
<g font-size="33" fill="#000">
<text x="1167.5" y="479.5">15</text>
<text x="1167.5" y="548.6">10</text>
<text x="1167.5" y="620.8">5</text>
</g>
</svg>
</body></html>
